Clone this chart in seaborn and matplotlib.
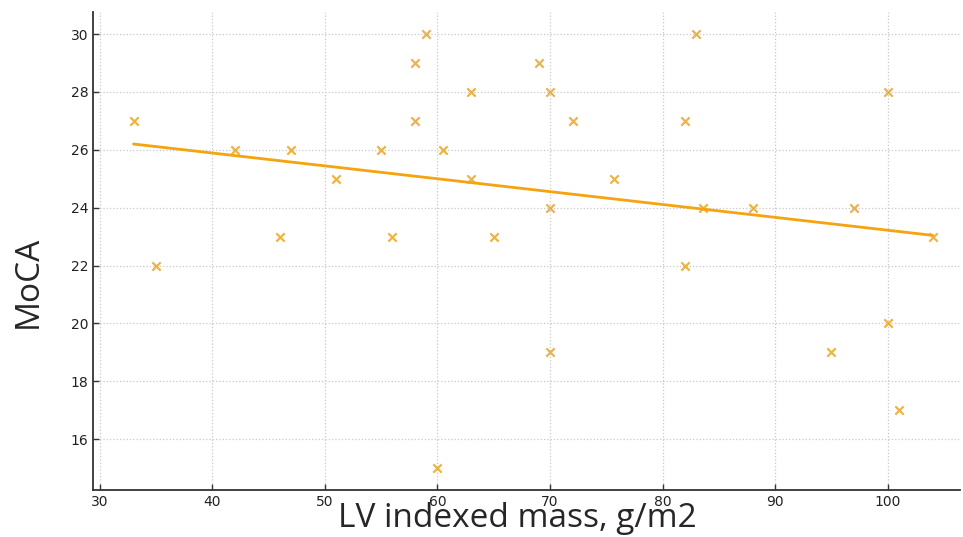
import matplotlib
matplotlib.use("Agg")
import matplotlib.pyplot as plt
import seaborn as sns
import pandas as pd

# LV indexed mass (g/m2) and MoCA score per patient
lv_mass = [33, 35, 42, 46, 47, 51, 55, 56, 58, 58, 59, 60, 60.5, 63, 63, 65,
           69, 70, 70, 70, 72, 75.7, 82, 82, 83, 83.6, 88, 95, 97, 100, 100,
           101, 104]
moca = [27, 22, 26, 23, 26, 25, 26, 23, 29, 27, 30, 15, 26, 28, 25, 23,
        29, 28, 24, 19, 27, 25, 27, 22, 30, 24, 24, 19, 24, 28, 20,
        17, 23]
x_ticks = [30, 40, 50, 60, 70, 80, 90, 100]
y_ticks = [16, 18, 20, 22, 24, 26, 28, 30]

df = pd.DataFrame({"lv": lv_mass, "moca": moca})

sns.set_theme(style="white")
plt.rcParams["font.family"] = ["DejaVu Sans"]

fig = plt.figure(figsize=(9.63, 5.37), dpi=100)
ax = fig.add_axes([0.0966, 0.0875, 0.9, 0.89])

sns.regplot(data=df, x="lv", y="moca", ax=ax, ci=None,
            marker="x",
            scatter_kws={"color": "#E6A21E", "s": 36, "linewidths": 1.6},
            line_kws={"color": "#F5A30F", "linewidth": 2})

ax.set_xlim(29.4, 106.4)
ax.set_ylim(14.24, 30.76)
ax.set_xticks(x_ticks)
ax.set_yticks(y_ticks)
ax.grid(True, linestyle=":", color="#c8c8c8", linewidth=0.9)
ax.set_axisbelow(True)

for side in ["top", "right"]:
    ax.spines[side].set_visible(False)
for side in ["left", "bottom"]:
    ax.spines[side].set_color("#333333")
    ax.spines[side].set_linewidth(1.3)

ax.tick_params(direction="in", length=4, width=1, colors="#333333",
               labelsize=10, labelcolor="#222222", left=True, bottom=True)

ax.set_xlabel("LV indexed mass, g/m2", fontsize=24, family="Open Sans")
ax.set_ylabel("MoCA", fontsize=24, family="Open Sans")
ax.xaxis.set_label_coords(0.49, -0.025, transform=ax.transAxes)
ax.yaxis.set_label_coords(-0.056, 0.435, transform=ax.transAxes)

fig.savefig("out.png", dpi=100)
